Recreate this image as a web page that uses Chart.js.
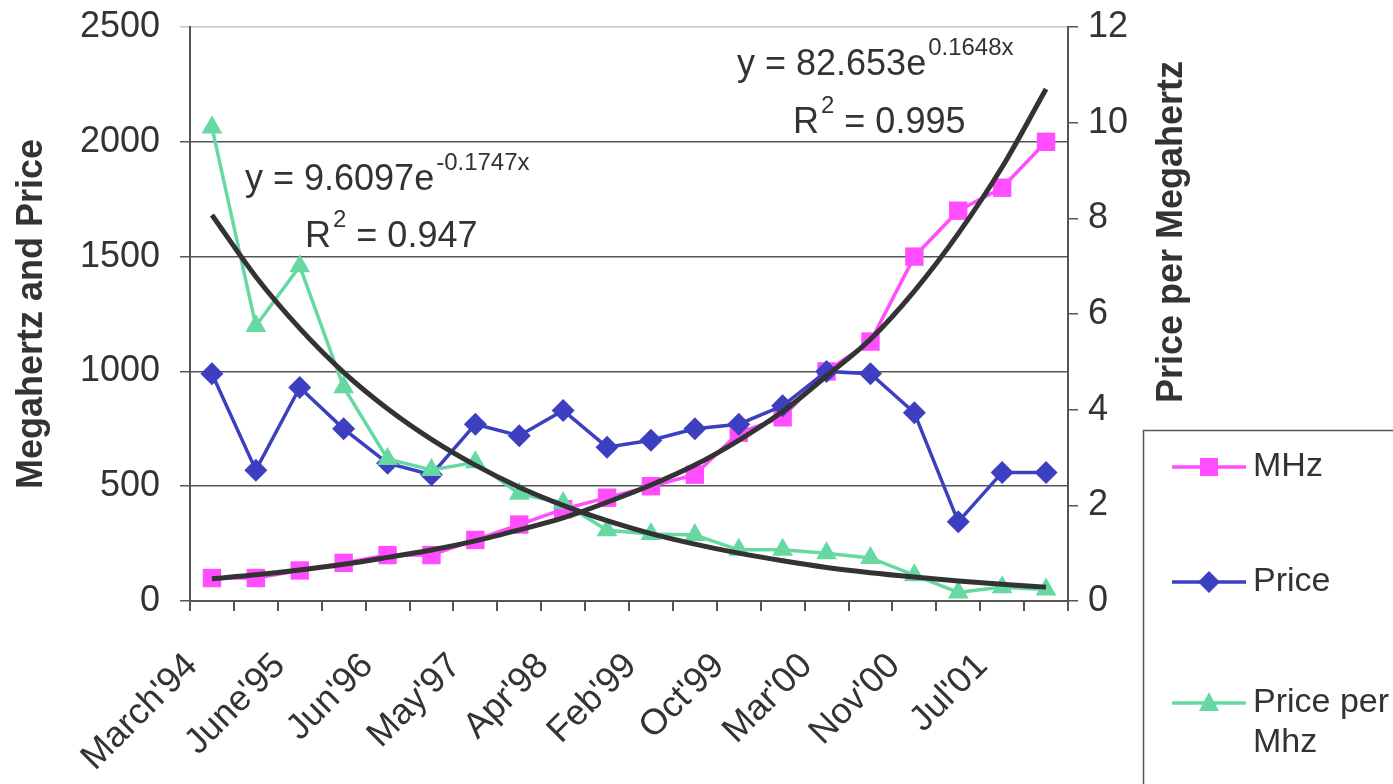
<!DOCTYPE html>
<html>
<head>
<meta charset="utf-8">
<script src="https://cdn.jsdelivr.net/npm/chart.js@4.4.1/dist/chart.umd.min.js"></script>
<style>
  html, body { margin: 0; padding: 0; background: #fff; }
  .wrap { width: 1393px; height: 784px; position: relative; }
</style>
</head>
<body>
<div class="wrap"><canvas id="chart"></canvas></div>
<script>
// categories (only every other one is labelled on the axis)
const dateLabels = ["March'94", "", "June'95", "", "Jun'96", "", "May'97", "", "Apr'98", "",
  "Feb'99", "", "Oct'99", "", "Mar'00", "", "Nov'00", "", "Jul'01", ""];

// left axis series
const mhz = [100, 100, 133, 166, 200, 200, 266, 333, 400, 450, 500, 550, 733, 800, 1000, 1130, 1500, 1700, 1800, 2000];
const price = [990, 570, 930, 750, 600, 550, 770, 720, 830, 670, 700, 750, 770, 850, 1000, 990, 820, 345, 560, 560];
// right axis series
const pricePerMhz = [9.9, 5.75, 7.0, 4.47, 2.97, 2.74, 2.9, 2.24, 2.05, 1.48, 1.4, 1.38, 1.07, 1.07, 1.0, 0.9, 0.54, 0.18, 0.29, 0.24];

// trend lines
const mhzTrend = [97, 114, 135, 160, 190, 222, 262, 310, 362, 430, 505, 592, 700, 825, 980, 1140, 1350, 1600, 1890, 2230];
const ppmTrend = [8.07, 6.78, 5.7, 4.78, 4.02, 3.38, 2.84, 2.38, 2.0, 1.68, 1.41, 1.19, 1.0, 0.84, 0.7, 0.59, 0.5, 0.42, 0.35, 0.29];

const leftTicks = [0, 500, 1000, 1500, 2000, 2500];
const rightTicks = [0, 2, 4, 6, 8, 10, 12];

const FONT = "'Liberation Sans', Arial, sans-serif";
const PINK = '#ff4dff';
const BLUE = '#3b3fc0';
const GREEN = '#66d9a3';
const TEXT = '#333';

Chart.defaults.font.family = FONT;

function supText(ctx, x, y, main, sup) {
  ctx.font = '36px ' + FONT;
  ctx.fillText(main, x, y);
  const w = ctx.measureText(main).width;
  ctx.font = '24px ' + FONT;
  ctx.fillText(sup, x + w + 2, y - 20);
  return x + w + 2 + ctx.measureText(sup).width;
}

// no extra room for the end tick labels, the layout padding handles it
function noScalePadding(scale) {
  scale.paddingTop = 0;
  scale.paddingBottom = 0;
  scale.paddingLeft = 0;
  scale.paddingRight = 0;
}

const extras = {
  id: 'extras',
  afterDraw(chart) {
    const ctx = chart.ctx;
    ctx.save();
    ctx.fillStyle = TEXT;
    ctx.textAlign = 'left';
    ctx.textBaseline = 'alphabetic';

    // trendline equations
    supText(ctx, 245, 190, 'y = 9.6097e', '-0.1747x');
    let x = supText(ctx, 305, 247, 'R', '2');
    ctx.font = '36px ' + FONT;
    ctx.fillText(' = 0.947', x, 247);
    supText(ctx, 737, 75, 'y = 82.653e', '0.1648x');
    x = supText(ctx, 793, 133, 'R', '2');
    ctx.font = '36px ' + FONT;
    ctx.fillText(' = 0.995', x, 133);

    // right axis title
    ctx.save();
    ctx.translate(1172, 232);
    ctx.rotate(-Math.PI / 2);
    ctx.textAlign = 'center';
    ctx.textBaseline = 'middle';
    ctx.font = 'bold 36px ' + FONT;
    ctx.fillText('Price per Megahertz', 0, 0);
    ctx.restore();

    // legend box
    ctx.strokeStyle = '#555';
    ctx.lineWidth = 1.5;
    ctx.strokeRect(1143.5, 430.5, 400, 500);

    const items = [
      { label: ['MHz'], color: PINK, style: 'rect', y: 467 },
      { label: ['Price'], color: BLUE, style: 'diamond', y: 582 },
      { label: ['Price per', 'Mhz'], color: GREEN, style: 'triangle', y: 703 }
    ];
    items.forEach(it => {
      ctx.strokeStyle = it.color;
      ctx.fillStyle = it.color;
      ctx.lineWidth = 3.5;
      ctx.beginPath();
      ctx.moveTo(1172, it.y);
      ctx.lineTo(1246, it.y);
      ctx.stroke();
      const mx = 1209, my = it.y;
      ctx.beginPath();
      if (it.style === 'rect') {
        ctx.rect(mx - 9, my - 9, 18, 18);
      } else if (it.style === 'diamond') {
        ctx.moveTo(mx, my - 11); ctx.lineTo(mx + 11, my);
        ctx.lineTo(mx, my + 11); ctx.lineTo(mx - 11, my);
        ctx.closePath();
      } else {
        ctx.moveTo(mx, my - 11); ctx.lineTo(mx + 10, my + 8);
        ctx.lineTo(mx - 10, my + 8);
        ctx.closePath();
      }
      ctx.fill();
      ctx.fillStyle = TEXT;
      ctx.font = '34px ' + FONT;
      ctx.textBaseline = 'middle';
      it.label.forEach((line, i) => ctx.fillText(line, 1253, it.y + i * 40));
    });
    ctx.restore();
  }
};

new Chart(document.getElementById('chart'), {
  type: 'line',
  data: {
    labels: dateLabels,
    datasets: [
      {
        label: 'MHz trend',
        data: mhzTrend,
        yAxisID: 'y',
        borderColor: '#333',
        borderWidth: 5,
        pointRadius: 0,
        cubicInterpolationMode: 'monotone',
        order: 0
      },
      {
        label: 'Price per Mhz trend',
        data: ppmTrend,
        yAxisID: 'y1',
        borderColor: '#333',
        borderWidth: 5,
        pointRadius: 0,
        cubicInterpolationMode: 'monotone',
        order: 0
      },
      {
        label: 'Price per Mhz',
        data: pricePerMhz,
        yAxisID: 'y1',
        borderColor: GREEN,
        backgroundColor: GREEN,
        borderWidth: 3.5,
        pointStyle: 'triangle',
        pointRadius: 12,
        pointBorderWidth: 0,
        order: 1
      },
      {
        label: 'Price',
        data: price,
        yAxisID: 'y',
        borderColor: BLUE,
        backgroundColor: BLUE,
        borderWidth: 3.5,
        pointStyle: 'rectRot',
        pointRadius: 11.5,
        pointBorderWidth: 0,
        order: 2
      },
      {
        label: 'MHz',
        data: mhz,
        yAxisID: 'y',
        borderColor: PINK,
        backgroundColor: PINK,
        borderWidth: 3.5,
        pointStyle: 'rect',
        pointRadius: 13,
        pointBorderWidth: 0,
        order: 3
      }
    ]
  },
  options: {
    responsive: true,
    maintainAspectRatio: false,
    animation: false,
    layout: { padding: { top: 27, left: 0, right: 0, bottom: 0 } },
    plugins: {
      legend: { display: false },
      tooltip: { enabled: false }
    },
    scales: {
      x: {
        offset: true,
        border: { color: '#555', width: 2 },
        grid: { offset: true, drawOnChartArea: false, drawTicks: true, tickLength: 10, color: '#555', lineWidth: 2 },
        ticks: {
          autoSkip: false,
          minRotation: 45,
          maxRotation: 45,
          padding: 34,
          labelOffset: -20,
          color: TEXT,
          font: { size: 36 }
        },
        afterFit(scale) { scale.height = 183; noScalePadding(scale); }
      },
      y: {
        position: 'left',
        min: leftTicks[0],
        max: leftTicks[leftTicks.length - 1],
        afterBuildTicks(scale) { scale.ticks = leftTicks.map(v => ({ value: v })); },
        border: { color: '#555', width: 2 },
        grid: {
          color: ctx => ctx.tick && ctx.tick.value === 2500 ? '#c8c8c8' : '#555',
          lineWidth: 1.5,
          tickLength: 10
        },
        ticks: { color: TEXT, font: { size: 36 }, padding: 20, callback: v => String(v) },
        title: {
          display: true,
          text: 'Megahertz and Price',
          color: TEXT,
          font: { size: 36, weight: 'bold' },
          padding: { top: 10, bottom: 0 }
        },
        afterFit(scale) { scale.width = 190; noScalePadding(scale); }
      },
      y1: {
        position: 'right',
        min: rightTicks[0],
        max: rightTicks[rightTicks.length - 1],
        afterBuildTicks(scale) { scale.ticks = rightTicks.map(v => ({ value: v })); },
        border: { color: '#555', width: 2 },
        grid: { drawOnChartArea: false, tickLength: 10, color: '#555', lineWidth: 1.5 },
        ticks: { color: TEXT, font: { size: 36 }, padding: 10, callback: v => String(v) },
        afterFit(scale) { scale.width = 325; noScalePadding(scale); }
      }
    }
  },
  plugins: [extras]
});
</script>
</body>
</html>
